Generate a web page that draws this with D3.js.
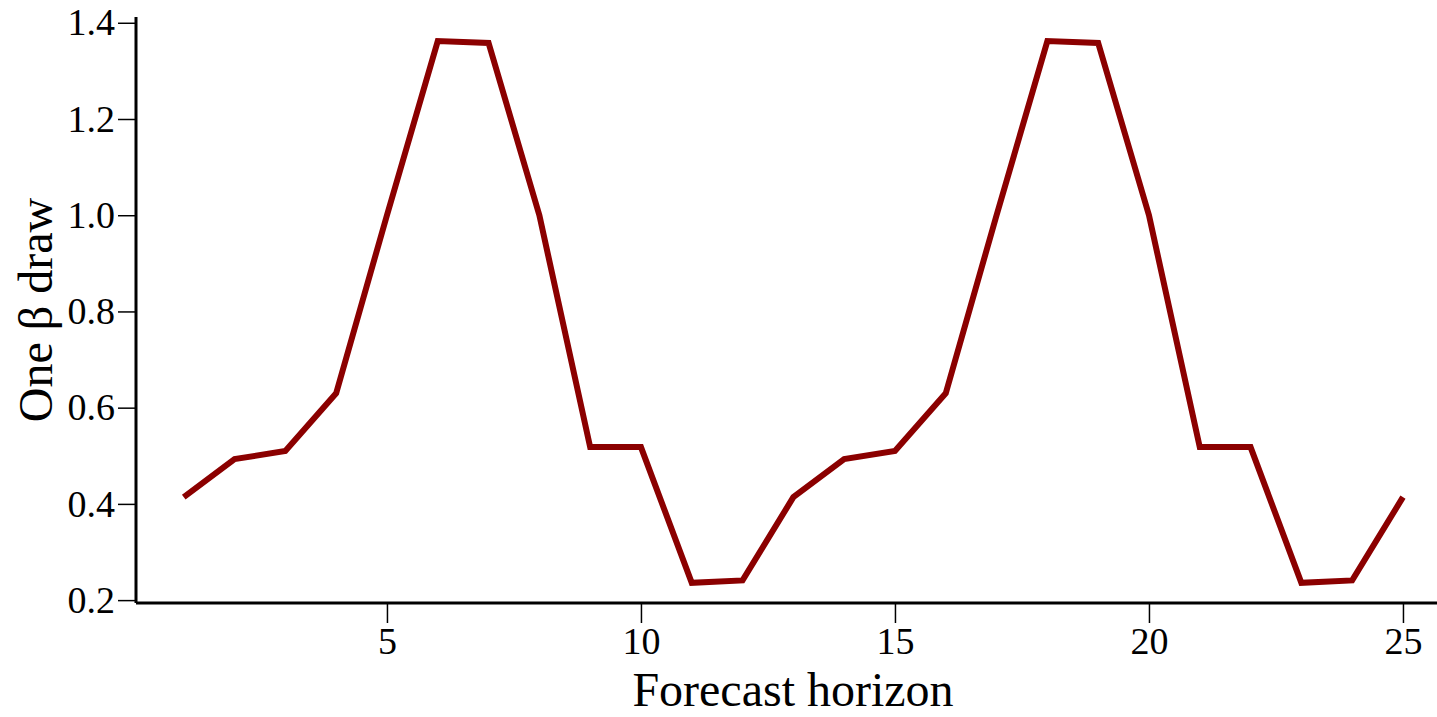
<!DOCTYPE html>
<html>
<head>
<meta charset="utf-8">
<script src="https://cdn.jsdelivr.net/npm/d3@7"></script>
<style>
    body { margin: 0; background: #fff; }
    svg { display: block; font-family: "Liberation Serif", "Times New Roman", serif; }
</style>
</head>
<body>
<svg></svg>
<script>
// Chart data
const horizons = [1, 2, 3, 4, 5, 6, 7, 8, 9, 10, 11, 12, 13,
                  14, 15, 16, 17, 18, 19, 20, 21, 22, 23, 24, 25];
const betaDraw = [0.414, 0.493, 0.510, 0.630, 1.000, 1.362, 1.358, 1.000, 0.518, 0.518, 0.236, 0.241, 0.414,
                  0.493, 0.510, 0.630, 1.000, 1.362, 1.358, 1.000, 0.518, 0.518, 0.236, 0.241, 0.414];
const xTicks = [5, 10, 15, 20, 25];
const yTicks = [0.2, 0.4, 0.6, 0.8, 1.0, 1.2, 1.4];

// Set up SVG dimensions
const W = 1437, H = 717;
const margin = { top: 17, right: 0, bottom: 114, left: 136 };
const width = W - margin.left - margin.right;
const height = H - margin.top - margin.bottom;

const svg = d3.select("svg")
    .attr("width", W)
    .attr("height", H);

const g = svg.append("g")
    .attr("transform", `translate(${margin.left},${margin.top})`);

// Scales
const x = d3.scaleLinear().domain([0.06, 25.67]).range([0, width]);
const y = d3.scaleLinear().domain([0.194, 1.412]).range([height, 0]);

// Axes
const xAxis = g.append("g")
    .attr("transform", `translate(0,${height})`)
    .call(d3.axisBottom(x).tickValues(xTicks).tickFormat(d3.format("d")).tickSize(20).tickPadding(4));

const yAxis = g.append("g")
    .call(d3.axisLeft(y).tickValues(yTicks).tickFormat(d3.format(".1f")).tickSize(18).tickPadding(3));

[xAxis, yAxis].forEach(ax => {
    ax.select(".domain").attr("stroke", "#000").attr("stroke-width", 3);
    ax.selectAll(".tick line").attr("stroke", "#000").attr("stroke-width", 1.5);
    ax.selectAll(".tick text")
        .attr("fill", "#000")
        .style("font-family", "'Liberation Serif', 'Times New Roman', serif")
        .style("font-size", "38px");
});
// Keep plain axis lines (no outer ticks)
xAxis.select(".domain").attr("d", `M0,0H${width}`);
yAxis.select(".domain").attr("d", `M0,${height}V0`);

// Line
const line = d3.line()
    .x((d, i) => x(horizons[i]))
    .y(d => y(d));

g.append("path")
    .datum(betaDraw)
    .attr("fill", "none")
    .attr("stroke", "#8b0000")
    .attr("stroke-width", 6)
    .attr("stroke-linejoin", "miter")
    .attr("d", line);

// Axis labels
svg.append("text")
    .attr("x", 793)
    .attr("y", 706)
    .attr("text-anchor", "middle")
    .style("font-size", "48px")
    .text("Forecast horizon");

svg.append("text")
    .attr("transform", `translate(52,${margin.top + height / 2}) rotate(-90)`)
    .attr("text-anchor", "middle")
    .style("font-size", "48px")
    .text("One β draw");
</script>
</body>
</html>
